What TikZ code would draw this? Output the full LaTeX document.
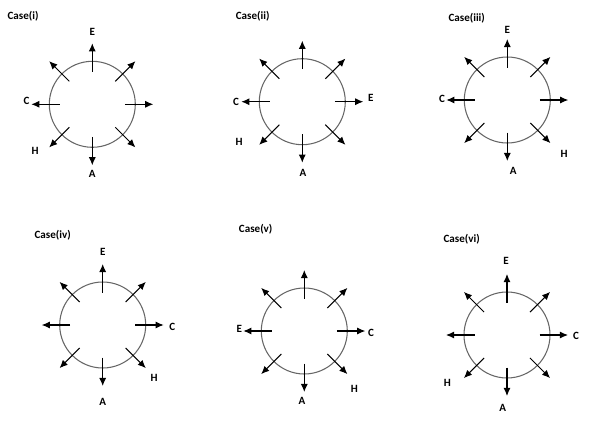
\documentclass[tikz,border=0pt]{standalone}
\usepackage{fontspec}
\setmainfont{Carlito}
\usetikzlibrary{calc,arrows.meta}
\tikzset{spoke/.style={line width=0.6pt, -{Latex[length=4.6pt,width=4pt]}},
	lbl/.style={font=\fontsize{6.3}{7}\selectfont\bfseries, inner sep=0pt}}
\def\spokewheel(#1){\draw[black!60, line width=0.6pt] (#1) circle (0.86);
	\foreach \ang in {0,45,...,315} {\draw[spoke] ($(#1)+(\ang:0.65)$) -- ($(#1)+(\ang:1.22)$);}}

\begin{document}
\begin{tikzpicture}
			%%%%% START %%%%%
			\useasboundingbox (0, 0) rectangle (12.12, 8.56);
			
			% Case(i)
			\coordinate (c1) at (1.846, 6.474);
			\spokewheel(c1);
			\node[lbl] (t1) at (0.46, 8.24) {Case(i)};
			\node[lbl] (e1) at (1.846, 7.914) {E};
			\node[lbl] (k1) at (0.53, 6.54) {C};
			\node[lbl] (h1) at (0.70, 5.546) {H};
			\node[lbl] (a1) at (1.846, 5.08) {A};
			
			% Case(ii)
			\coordinate (c2) at (6.046, 6.526);
			\spokewheel(c2);
			\node[lbl] (t2) at (5.054, 8.226) {Case(ii)};
			\node[lbl] (e2) at (7.414, 6.594) {E};
			\node[lbl] (k2) at (4.72, 6.52) {C};
			\node[lbl] (h2) at (4.78, 5.726) {H};
			\node[lbl] (a2) at (6.06, 5.10) {A};
			
			% Case(iii)
			\coordinate (c3) at (10.146, 6.56);
			\spokewheel(c3);
			\node[lbl] (t3) at (9.334, 8.194) {Case(iii)};
			\node[lbl] (e3) at (10.146, 7.96) {E};
			\node[lbl] (k3) at (8.84, 6.58) {C};
			\node[lbl] (h3) at (11.28, 5.474) {H};
			\node[lbl] (a3) at (10.266, 5.14) {A};
			
			% Case(iv)
			\coordinate (c4) at (2.054, 2.06);
			\spokewheel(c4);
			\node[lbl] (t4) at (1.054, 3.86) {Case(iv)};
			\node[lbl] (e4) at (2.054, 3.514) {E};
			\node[lbl] (k4) at (3.446, 2.026) {C};
			\node[lbl] (h4) at (3.08, 1.006) {H};
			\node[lbl] (a4) at (2.054, 0.526) {A};
			
			% Case(v)
			\coordinate (c5) at (6.086, 1.94);
			\spokewheel(c5);
			\node[lbl] (t5) at (5.114, 3.98) {Case(v)};
			\node[lbl] (e5) at (4.786, 1.98) {E};
			\node[lbl] (k5) at (7.42, 1.906) {C};
			\node[lbl] (h5) at (7.086, 0.78) {H};
			\node[lbl] (a5) at (6.04, 0.546) {A};
			
			% Case(vi)
			\coordinate (c6) at (10.14, 1.86);
			\spokewheel(c6);
			\node[lbl] (t6) at (9.234, 3.78) {Case(vi)};
			\node[lbl] (e6) at (10.12, 3.334) {E};
			\node[lbl] (k6) at (11.52, 1.84) {C};
			\node[lbl] (h6) at (8.946, 0.906) {H};
			\node[lbl] (a6) at (10.054, 0.394) {A};
			%%%%% END %%%%%
\end{tikzpicture}
\end{document}
